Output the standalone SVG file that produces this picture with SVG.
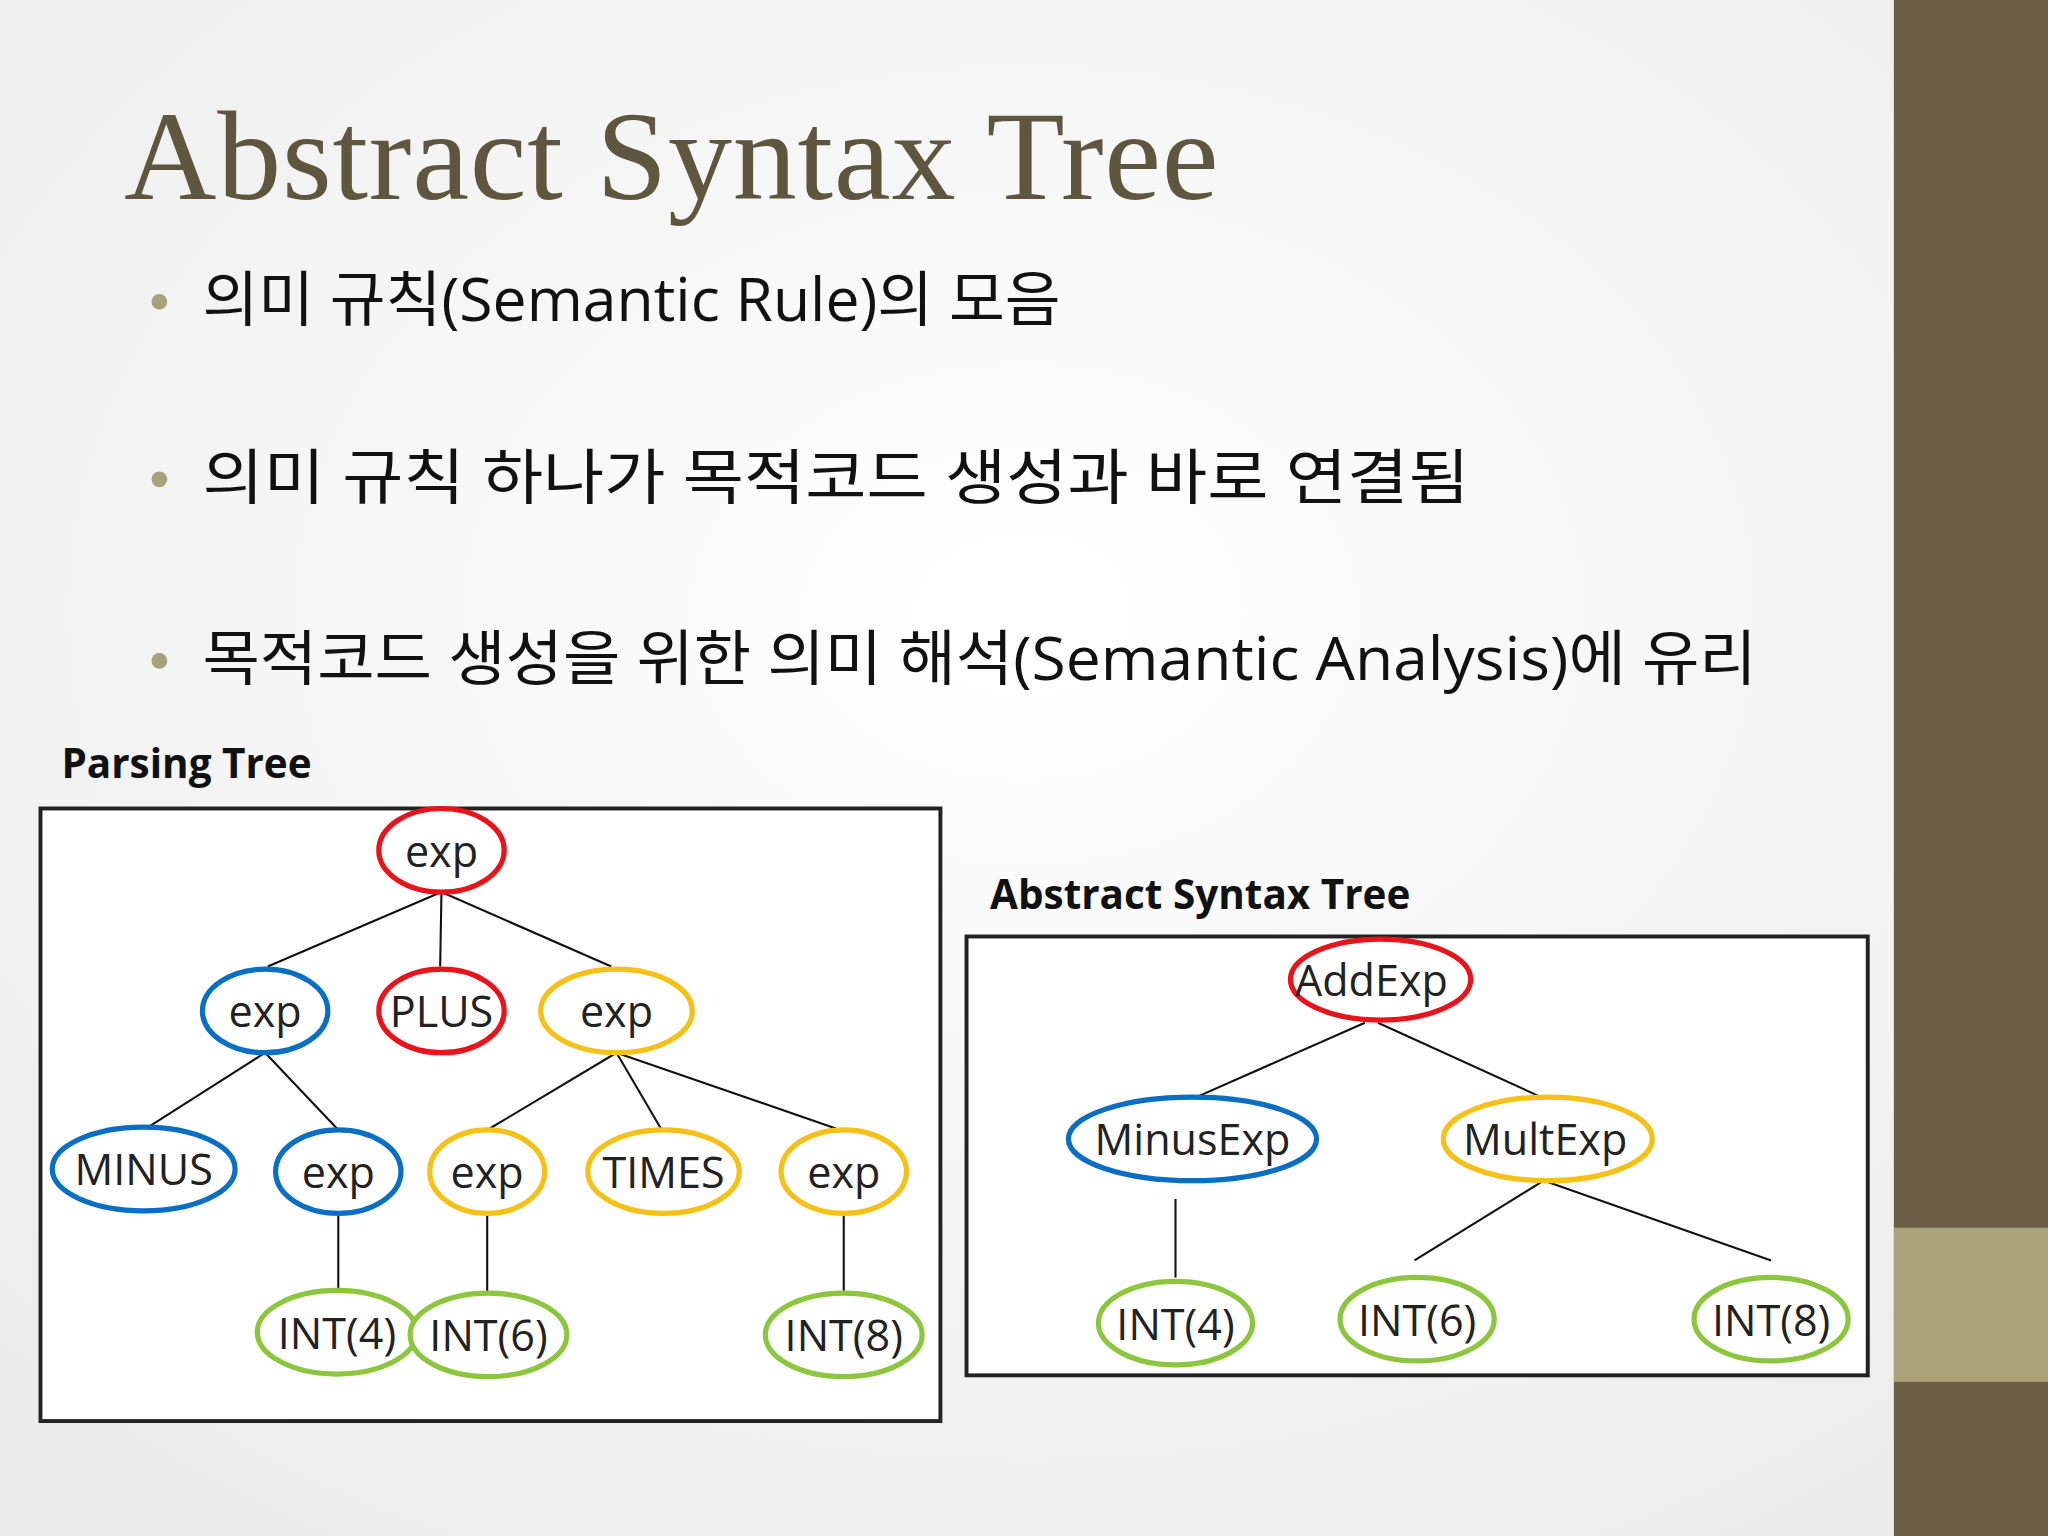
<svg xmlns="http://www.w3.org/2000/svg" width="2048" height="1536" viewBox="0 0 2048 1536">
<defs>
<radialGradient id="bg" cx="0.5" cy="0.4" r="0.7"><stop offset="0" stop-color="#ffffff"/><stop offset="1" stop-color="#ececec"/></radialGradient>
<style>
.n{fill:#fff;stroke-width:4}
.r{stroke:#e8141c}.b{stroke:#0a6fc2}.y{stroke:#f5c017}.g{stroke:#8cc63e}
.t{font-family:"Open Sans","Liberation Sans",sans-serif;font-size:33px;fill:#222;text-anchor:middle;dominant-baseline:central}
.e{stroke:#111;stroke-width:1.6;fill:none}
.bul{font-family:"Open Sans","Noto Sans CJK KR",sans-serif;font-size:46px;fill:#111}
.lab{font-family:"Open Sans","Liberation Sans",sans-serif;font-size:31px;font-weight:bold;fill:#111}
</style>
</defs>
<rect width="2048" height="1536" fill="url(#bg)"/>
<g transform="scale(1.30612)">
<rect x="1450" y="0" width="118" height="1176" fill="#6b5e47"/>
<rect x="1450" y="940" width="118" height="118" fill="#aaa37a"/>
<text x="95" y="152" font-family="Liberation Serif,serif" font-size="98" fill="#5f5640" textLength="838">Abstract Syntax Tree</text>
<g fill="#a4a37c"><circle cx="122" cy="231" r="6"/><circle cx="122" cy="367" r="6"/><circle cx="122" cy="506" r="6"/></g>
<text class="bul" x="155" y="246" textLength="657" lengthAdjust="spacingAndGlyphs">의미 규칙(Semantic Rule)의 모음</text>
<text class="bul" x="155" y="382" textLength="970" lengthAdjust="spacingAndGlyphs">의미 규칙 하나가 목적코드 생성과 바로 연결됨</text>
<text class="bul" x="155" y="521" textLength="1190" lengthAdjust="spacingAndGlyphs">목적코드 생성을 위한 의미 해석(Semantic Analysis)에 유리</text>
<text class="lab" x="47" y="596">Parsing Tree</text>
<text class="lab" x="758" y="696">Abstract Syntax Tree</text>
<rect x="31" y="619" width="689" height="469" fill="#fff" stroke="#222" stroke-width="3"/>
<rect x="740" y="717" width="690" height="336" fill="#fff" stroke="#222" stroke-width="3"/>
<g id="connectors">
<path class="e" d="M338 683L205 740M338 683L337 740M338 683L468 740M203 806L115 862M203 806L258 864M472 806L375 864M472 806L506 864M472 806L640 864M259 929L259 988M373 929L373 990M646 929L646 990"/>
<path class="e" d="M1045 783L916 840M1055 783L1180 840M900 918L900 978M1180 905L1083 965M1185 905L1356 965"/>
</g>
<g id="p_exp"><ellipse class="n r" cx="338" cy="651" rx="48" ry="32"/><text class="t" x="338" y="651">exp</text></g>
<g id="p_exp_l"><ellipse class="n b" cx="203" cy="774" rx="48" ry="32"/><text class="t" x="203" y="774">exp</text></g>
<g id="p_plus"><ellipse class="n r" cx="338" cy="774" rx="48" ry="32"/><text class="t" x="338" y="774">PLUS</text></g>
<g id="p_exp_r"><ellipse class="n y" cx="472" cy="774" rx="58" ry="32"/><text class="t" x="472" y="774">exp</text></g>
<g id="p_minus"><ellipse class="n b" cx="110" cy="895" rx="70" ry="32"/><text class="t" x="110" y="895">MINUS</text></g>
<g id="p_exp_lb"><ellipse class="n b" cx="259" cy="897" rx="48" ry="32"/><text class="t" x="259" y="897">exp</text></g>
<g id="p_exp_y1"><ellipse class="n y" cx="373" cy="897" rx="44" ry="32"/><text class="t" x="373" y="897">exp</text></g>
<g id="p_times"><ellipse class="n y" cx="508" cy="897" rx="58" ry="32"/><text class="t" x="508" y="897">TIMES</text></g>
<g id="p_exp_y2"><ellipse class="n y" cx="646" cy="897" rx="48" ry="32"/><text class="t" x="646" y="897">exp</text></g>
<g id="p_int4"><ellipse class="n g" cx="258" cy="1020" rx="61" ry="32"/><text class="t" x="258" y="1020">INT(4)</text></g>
<g id="p_int6"><ellipse class="n g" cx="374" cy="1022" rx="60" ry="32"/><text class="t" x="374" y="1022">INT(6)</text></g>
<g id="p_int8"><ellipse class="n g" cx="646" cy="1022" rx="60" ry="32"/><text class="t" x="646" y="1022">INT(8)</text></g>
<g id="a_add"><ellipse class="n r" cx="1057" cy="750" rx="69" ry="31"/><text class="t" x="1050" y="750">AddExp</text></g>
<g id="a_minus"><ellipse class="n b" cx="913" cy="872" rx="95" ry="32"/><text class="t" x="913" y="872">MinusExp</text></g>
<g id="a_mult"><ellipse class="n y" cx="1185" cy="872" rx="80" ry="32"/><text class="t" x="1183" y="872">MultExp</text></g>
<g id="a_int4"><ellipse class="n g" cx="900" cy="1013" rx="59" ry="32"/><text class="t" x="900" y="1013">INT(4)</text></g>
<g id="a_int6"><ellipse class="n g" cx="1085" cy="1010" rx="59" ry="32"/><text class="t" x="1085" y="1010">INT(6)</text></g>
<g id="a_int8"><ellipse class="n g" cx="1356" cy="1010" rx="59" ry="32"/><text class="t" x="1356" y="1010">INT(8)</text></g>
</g>
</svg>
